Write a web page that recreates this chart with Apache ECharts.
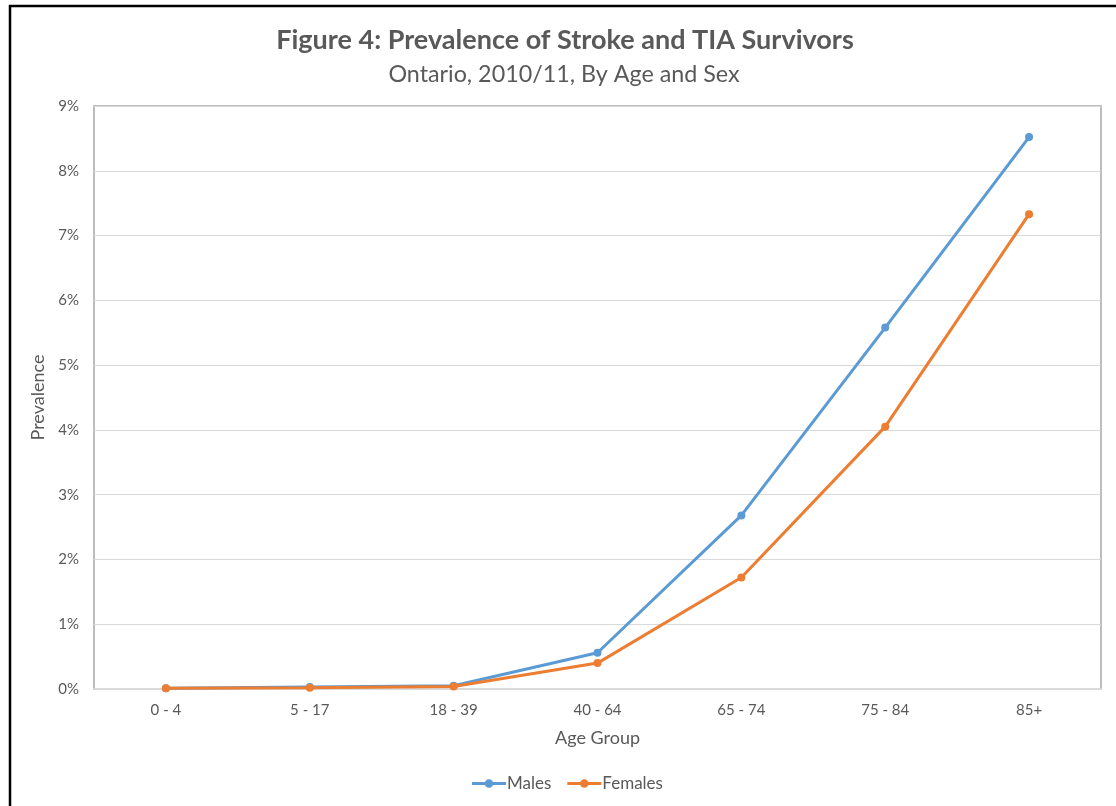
<!DOCTYPE html>
<html>
<head>
<meta charset="utf-8">
<script src="https://cdn.jsdelivr.net/npm/echarts@6/dist/echarts.min.js"></script>
<style>
html,body{margin:0;padding:0;background:#fff;}
#chart{width:1116px;height:806px;}
</style>
</head>
<body>
<div id="chart"></div>
<script>
var categories = ['0 - 4', '5 - 17', '18 - 39', '40 - 64', '65 - 74', '75 - 84', '85+'];
var males = [0.01, 0.03, 0.05, 0.56, 2.68, 5.58, 8.52];
var females = [0.01, 0.02, 0.04, 0.40, 1.72, 4.05, 7.33];
var yTicks = [0, 1, 2, 3, 4, 5, 6, 7, 8, 9];

var FONT = 'Lato';
var legendIcon = 'path://M0,3.1H34V5.9H0Z M21.3,4.5A4.3,4.3 0 1 1 12.7,4.5A4.3,4.3 0 1 1 21.3,4.5Z';
var chart = echarts.init(document.getElementById('chart'));
chart.setOption({
  animation: false,
  backgroundColor: '#fff',
  title: [{
    text: 'Figure 4: Prevalence of Stroke and TIA Survivors',
    left: 560, top: 22, textAlign: 'center',
    textStyle: {fontFamily: FONT, fontSize: 27, fontWeight: 'bold', color: '#595959'}
  }, {
    text: 'Ontario, 2010/11, By Age and Sex',
    left: 559, top: 58, textAlign: 'center',
    textStyle: {fontFamily: FONT, fontSize: 23.3, fontWeight: 'normal', color: '#595959'}
  }],
  graphic: [{
    type: 'rect', silent: true, z: 100,
    shape: {x: 10, y: 6, width: 1130, height: 830},
    style: {fill: 'none', stroke: '#000', lineWidth: 2.5}
  }],
  legend: {
    bottom: 9, left: 467,
    data: [{name: 'Males', icon: legendIcon}, {name: 'Females', icon: legendIcon}],
    itemWidth: 34, itemHeight: 8.6, itemGap: 16,
    textStyle: {fontFamily: FONT, fontSize: 17, color: '#595959', padding: [0, 0, 0, -4]}
  },
  grid: {
    left: 94, right: 15, top: 106, bottom: 117,
    show: true, borderColor: '#a6a6a6', borderWidth: 1.5, containLabel: false
  },
  xAxis: {
    type: 'category', data: categories, boundaryGap: true,
    name: 'Age Group', nameLocation: 'middle', nameGap: 40,
    nameTextStyle: {fontFamily: FONT, fontSize: 18, color: '#595959'},
    axisLine: {show: true, lineStyle: {color: '#d9d9d9', width: 2}},
    axisTick: {show: false},
    axisLabel: {fontFamily: FONT, fontSize: 15, color: '#595959', margin: 14},
    splitLine: {show: false}
  },
  yAxis: {
    type: 'value', min: 0, max: 9, interval: 1,
    name: 'Prevalence', nameLocation: 'middle', nameGap: 39,
    nameTextStyle: {fontFamily: FONT, fontSize: 18, color: '#595959'},
    axisLine: {show: false}, axisTick: {show: false},
    axisLabel: {
      fontFamily: FONT, fontSize: 15, color: '#595959', margin: 15,
      formatter: function (v) { return yTicks.indexOf(v) >= 0 ? v + '%' : ''; }
    },
    splitLine: {show: true, lineStyle: {color: '#d9d9d9', width: 1}}
  },
  series: [{
    name: 'Males', type: 'line', data: males,
    symbol: 'circle', symbolSize: 8,
    lineStyle: {color: '#5B9BD5', width: 3},
    itemStyle: {color: '#5B9BD5'}
  }, {
    name: 'Females', type: 'line', data: females,
    symbol: 'circle', symbolSize: 8,
    lineStyle: {color: '#ED7D31', width: 3},
    itemStyle: {color: '#ED7D31'}
  }]
});
</script>
</body>
</html>
